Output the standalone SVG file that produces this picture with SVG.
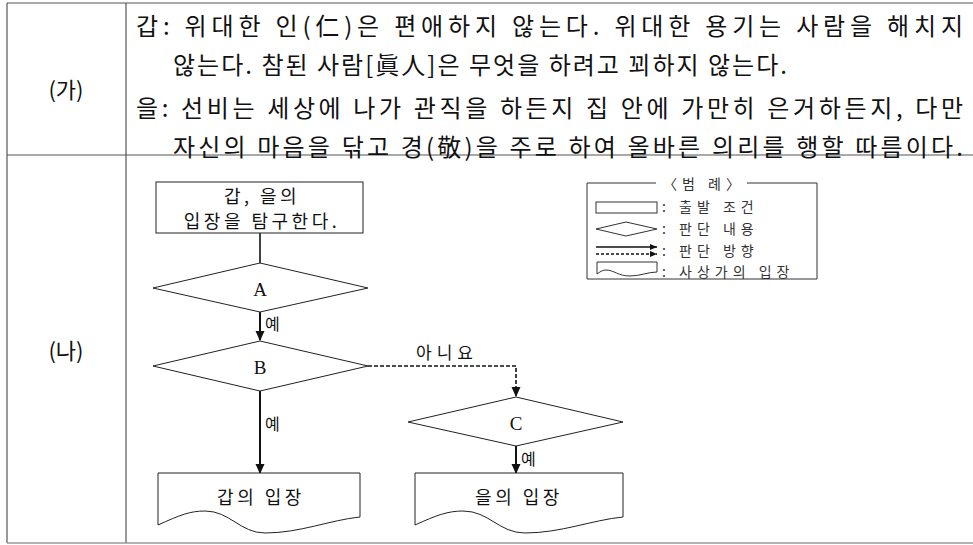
<svg xmlns="http://www.w3.org/2000/svg" width="973" height="545" viewBox="0 0 973 545">
<style>
.t{font-family:"Noto Sans CJK KR","Noto Sans",sans-serif;fill:#111;dominant-baseline:central}
.body{font-size:24px}
.lab{font-size:22px;text-anchor:middle}
.fc{font-size:18px;text-anchor:middle;letter-spacing:3.5px}
.sm{font-size:16px}
.no{font-size:17px;text-anchor:middle;letter-spacing:5px}
.lg{font-size:14px;fill:#333;letter-spacing:5px}
.ser{font-family:"Liberation Serif",serif;font-size:19px;text-anchor:middle;dominant-baseline:central;fill:#111}
.shape{fill:#fff;stroke:#222;stroke-width:1}
.grid{stroke:#555;stroke-width:1.2;fill:none}
.arr{stroke:#111;stroke-width:2;fill:none}
.dash{stroke:#111;stroke-width:1.6;fill:none;stroke-dasharray:4 2}
.thin{stroke:#111;stroke-width:1.6;fill:none}
</style>
<defs>
<marker id="ah" markerUnits="userSpaceOnUse" markerWidth="10" markerHeight="10" refX="9" refY="5" orient="auto">
<path d="M0,0.5 L10,5 L0,9.5 Z" fill="#111"/>
</marker>
<marker id="ahs" markerUnits="userSpaceOnUse" markerWidth="7" markerHeight="6" refX="7" refY="3" orient="auto">
<path d="M0,0 L7,3 L0,6 Z" fill="#111"/>
</marker>
</defs>
<rect width="973" height="545" fill="#fff"/>
<g id="table">
<line class="grid" x1="7" y1="3" x2="973" y2="3"/>
<line class="grid" x1="7" y1="3" x2="7" y2="543"/>
<line class="grid" x1="126" y1="3" x2="126" y2="543"/>
<line class="grid" x1="7" y1="155" x2="973" y2="155"/>
<line x1="7" y1="543" x2="973" y2="543" stroke="#999" stroke-width="1.5"/>
<text class="t lab" x="66" y="88">(가)</text>
<text class="t lab" x="66" y="349">(나)</text>
</g>
<g id="passage">
<text class="t body" x="136" y="24" textLength="827" lengthAdjust="spacing">갑: 위대한 인(仁)은 편애하지 않는다. 위대한 용기는 사람을 해치지</text>
<text class="t body" x="173" y="63" textLength="614" lengthAdjust="spacing">않는다. 참된 사람[眞人]은 무엇을 하려고 꾀하지 않는다.</text>
<text class="t body" x="136" y="106" textLength="827" lengthAdjust="spacing">을: 선비는 세상에 나가 관직을 하든지 집 안에 가만히 은거하든지, 다만</text>
<text class="t body" x="173" y="145" textLength="790" lengthAdjust="spacing">자신의 마음을 닦고 경(敬)을 주로 하여 올바른 의리를 행할 따름이다.</text>
</g>
<g id="connectors">
<line class="thin" x1="260" y1="233" x2="260" y2="263"/>
<line class="arr" x1="260" y1="312" x2="260" y2="340" marker-end="url(#ah)"/>
<line class="arr" x1="260" y1="391" x2="260" y2="473" marker-end="url(#ah)"/>
<path class="dash" d="M368,366 H516 V396" marker-end="url(#ah)"/>
<line class="arr" x1="516" y1="446" x2="516" y2="473" marker-end="url(#ah)"/>
<text class="t sm" x="265" y="323">예</text>
<text class="t sm" x="265" y="423">예</text>
<text class="t sm" x="521" y="458">예</text>
<text class="t no" x="447" y="351">아니요</text>
</g>
<g id="start">
<rect class="shape" x="156" y="182" width="207" height="51"/>
<text class="t fc" x="262" y="195">갑, 을의</text>
<text class="t fc" x="262" y="220">입장을 탐구한다.</text>
</g>
<g id="A">
<polygon class="shape" points="153,288 260,263 368,288 260,312"/>
<text class="ser" x="260" y="289">A</text>
</g>
<g id="B">
<polygon class="shape" points="153,366 260,341 368,366 260,391"/>
<text class="ser" x="260" y="367">B</text>
</g>
<g id="C">
<polygon class="shape" points="408,422 516,397 623,422 516,446"/>
<text class="ser" x="516" y="423">C</text>
</g>
<g id="gap">
<path class="shape" d="M158,473 H360 V517 C330,520 300,533 265,533 C240,533 230,511 205,511 C190,511 180,515 158,525 Z"/>
<text class="t fc" x="261" y="496">갑의 입장</text>
</g>
<g id="eul">
<path class="shape" d="M415,473 H623 V517 C592,520 561,533 525,533 C499,533 489,511 463,511 C448,511 437,515 415,525 Z"/>
<text class="t fc" x="519" y="496">을의 입장</text>
</g>
<g id="legend">
<path d="M656,183 H587 V279 H817 V183 H747" fill="none" stroke="#333" stroke-width="1"/>
<text class="t lg" x="704" y="183" text-anchor="middle">〈범 례〉</text>
<rect x="596" y="202" width="61" height="11" fill="#fff" stroke="#333" stroke-width="1"/>
<polygon points="596,229 626,222 657,229 626,236" fill="#fff" stroke="#333" stroke-width="1"/>
<line x1="596" y1="247" x2="657" y2="247" stroke="#111" stroke-width="1.3" marker-end="url(#ahs)"/>
<line x1="596" y1="254" x2="657" y2="254" stroke="#111" stroke-width="1.3" stroke-dasharray="3 2" marker-end="url(#ahs)"/>
<path d="M597,262 H657 V272 C648,272 640,276 630,276 C618,276 614,270 606,270 C602,270 600,272 597,274 Z" fill="#fff" stroke="#333" stroke-width="1"/>
<text class="t lg" x="662" y="206">: 출발 조건</text>
<text class="t lg" x="662" y="228">: 판단 내용</text>
<text class="t lg" x="662" y="250">: 판단 방향</text>
<text class="t lg" x="662" y="271">: 사상가의 입장</text>
</g>
</svg>
